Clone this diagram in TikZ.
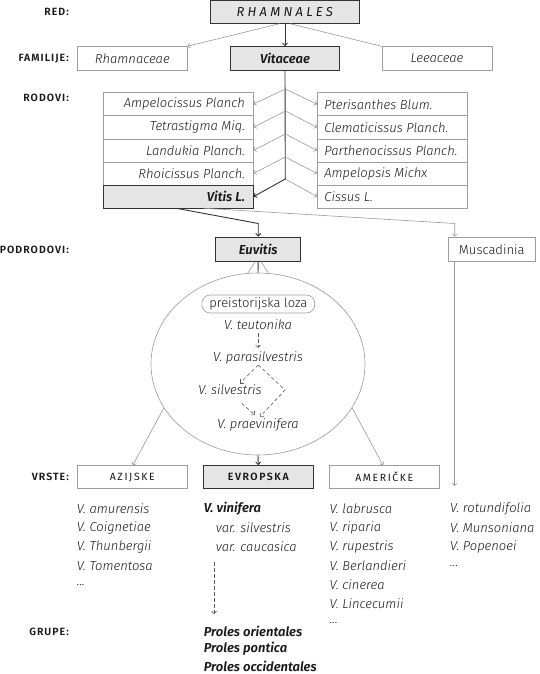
\documentclass[tikz,border=0pt]{standalone}
\usepackage{fontspec}
\setmainfont{Fira Sans}[UprightFont={* Light}, ItalicFont={* Light Italic}, BoldFont={* SemiBold}, BoldItalicFont={* SemiBold Italic}]
\newfontfamily\lblfont{Fira Sans}[LetterSpace=10, BoldFont={* SemiBold}]
\newfontfamily\titfont{Fira Sans}[LetterSpace=25]
\newfontfamily\capfont{Fira Sans}[LetterSpace=15, BoldFont={* SemiBold}]
\usetikzlibrary{shapes.geometric,arrows.meta}
\definecolor{lgray}{gray}{0.6}
\definecolor{bgray}{gray}{0.62}
\definecolor{dgray}{gray}{0.2}
\definecolor{dashgray}{gray}{0.35}
\definecolor{boxfill}{gray}{0.9}
\definecolor{txt}{gray}{0.1}
\newcommand\ltxt[1]{\makebox[133.5pt][r]{#1}}
\newcommand\rtxt[1]{\makebox[135.4pt][l]{#1}}
\tikzset{
  gline/.style={draw=lgray, line width=0.6pt},
  dline/.style={draw=dgray, line width=0.9pt},
  ddash/.style={draw=dashgray, line width=0.6pt, dash pattern=on 3.5pt off 2.5pt},
  tip/.style={-{Straight Barb[length=2.5pt,width=5pt]}},
  wbox/.style={draw=bgray, line width=0.6pt, minimum height=24pt, inner ysep=0pt, text=txt},
  gbox/.style={draw=dgray, fill=boxfill, line width=0.9pt, minimum height=24pt, inner ysep=0pt, text=txt},
  lbl/.style={anchor=east, inner sep=0pt, text=txt, font=\lblfont\bfseries\fontsize{10.5}{12}\selectfont},
  it/.style={font=\itshape\fontsize{13}{15}\selectfont, text=txt, inner sep=0pt},
  sp/.style={anchor=west, font=\itshape\fontsize{13}{15}\selectfont, text=txt, inner sep=0pt},
  spb/.style={sp, font=\bfseries\itshape\fontsize{13}{15}\selectfont},
  lcol/.style={inner xsep=8pt, minimum height=23.1pt, font=\itshape\fontsize{13}{15}\selectfont},
  rcol/.style={inner xsep=7pt, minimum height=23.1pt, font=\itshape\fontsize{13}{15}\selectfont},
}
\begin{document}
\begin{tikzpicture}[x=1pt,y=-1pt]
\useasboundingbox (0,0) rectangle (540,674);
% row labels
\node[lbl] (lred) at (69,12) {RED:};
\node[lbl] (lfam) at (69,58.6) {FAMILIJE:};
\node[lbl] (lrod) at (69,98) {RODOVI:};
\node[lbl] (lpod) at (69,250) {PODRODOVI:};
\node[lbl] (lvrs) at (69,477) {VRSTE:};
\node[lbl] (lgru) at (69,632) {GRUPE:};
% order
\node[gbox, minimum width=148.5pt, minimum height=23pt, font=\titfont\itshape\fontsize{13}{15}\selectfont] (ord) at (284.8,12.2) {RHAMNALES};
% families
\node[wbox, minimum width=109.4pt, font=\itshape\fontsize{13}{15}\selectfont] (rham) at (132.3,58.6) {Rhamnaceae};
\node[gbox, minimum width=109.4pt, font=\bfseries\itshape\fontsize{13}{15}\selectfont] (vita) at (285,58.6) {Vitaceae};
\node[wbox, minimum width=110pt, font=\itshape\fontsize{13}{15}\selectfont] (leea) at (437,58.6) {Leeaceae};
\draw[dline,tip] (ord.south -| vita.north) -- (vita.north);
\coordinate (o1) at (279.5,23.7);
\coordinate (o2) at (290,23.7);
\draw[gline,tip] (o1) -- (rham.north east);
\draw[gline] (o2) -- (leea.north west);
% genera
\node[wbox, lcol] (L1) at (178.3,104.25) {\ltxt{Ampelocissus Planch}};
\node[wbox, lcol] (L2) at (178.3,127.35) {\ltxt{Tetrastigma Miq.}};
\node[wbox, lcol] (L3) at (178.3,150.45) {\ltxt{Landukia Planch.}};
\node[wbox, lcol] (L4) at (178.3,173.55) {\ltxt{Rhoicissus Planch.}};
\node[gbox, lcol, font=\bfseries\itshape\fontsize{13}{15}\selectfont] (L5) at (178.3,196.65) {\ltxt{Vitis L.}};
\node[wbox, rcol] (R1) at (392.1,104.25) {\rtxt{Pterisanthes Blum.}};
\node[wbox, rcol] (R2) at (392.1,127.35) {\rtxt{Clematicissus Planch.}};
\node[wbox, rcol] (R3) at (392.1,150.45) {\rtxt{Parthenocissus Planch.}};
\node[wbox, rcol] (R4) at (392.1,173.55) {\rtxt{Ampelopsis Michx}};
\node[wbox, rcol] (R5) at (392.1,196.65) {\rtxt{Cissus L.}};
\coordinate (s1) at (285.3,89);
\coordinate (s2) at (285.3,111);
\coordinate (s3) at (285.3,134);
\coordinate (s4) at (285.3,157);
\coordinate (s5) at (285.3,179);
\draw[dline] (vita.south) -- (s5);
\foreach \i in {1,2,3,4} {
  \draw[gline,tip] (s\i) -- (L\i.east);
}
\foreach \i in {1,2,3,4,5} {
  \draw[gline,tip] (s\i) -- (R\i.west);
}
\draw[dline,tip] (s5) -- (L5.east);
% subgenera
\node[gbox, minimum width=85.2pt, minimum height=24.4pt, font=\bfseries\itshape\fontsize{13}{15}\selectfont] (euv) at (258.2,249.2) {Euvitis};
\node[wbox, minimum width=86.5pt, minimum height=24.4pt, font=\fontsize{13}{15}\selectfont] (mus) at (491.8,249.2) {Muscadinia};
\coordinate (e1) at (258.2,223.5);
\coordinate (m1) at (454.7,223.5);
\coordinate (m0) at (203.6,208.2);
\draw[gline,tip] (m0) -- (m1) -- (m1 |- mus.north);
\draw[dline,tip] (L5.south) -- (e1) -- (euv.north);
% ellipse
\node[ellipse, draw=lgray, line width=0.6pt, minimum width=214pt, minimum height=182pt, inner sep=0pt] (ell) at (258,364) {};
\coordinate (t1) at (247.5,273.6);
\coordinate (t2) at (268.6,273.4);
\draw[gline] ([xshift=-3pt]euv.south) -- (t1);
\draw[gline] ([xshift=3pt]euv.south) -- (t2);
\draw[dline] (euv.south) -- (ell.north);
\node[draw=bgray, line width=0.6pt, rounded corners=8.5pt, minimum width=113pt, minimum height=18pt, inner sep=0pt, text=txt, font=\fontsize{13}{15}\selectfont] (pre) at (258.3,304) {preistorijska loza};
\node[it] (teu) at (258,325) {V. teutonika};
\node[it] (par) at (258,358) {V. parasilvestris};
\node[it] (sil) at (230,390) {V. silvestris};
\node[it] (pra) at (258,425) {V. praevinifera};
\coordinate (a0) at (258,333);
\coordinate (a1) at (258,348);
\draw[ddash,tip] (a0) -- (a1);
\coordinate (d0) at (258.3,365);
\coordinate (d1) at (240,383.3);
\coordinate (d2) at (285,390);
\coordinate (d3) at (260,416.7);
\coordinate (d4) at (241.7,403.3);
\coordinate (d5) at (255,415);
\draw[ddash,tip] (d0) -- (d1);
\draw[ddash,tip] (d0) -- (d2) -- (d3);
\draw[ddash,tip] (d4) -- (d5);
% species groups
\node[wbox, minimum width=109.4pt, minimum height=23.2pt, font=\capfont\fontsize{10.5}{12}\selectfont] (azi) at (132.3,477.1) {AZIJSKE};
\node[gbox, minimum width=109.4pt, minimum height=23.2pt, font=\capfont\bfseries\fontsize{10.5}{12}\selectfont] (evr) at (258.3,477.1) {EVROPSKA};
\node[wbox, minimum width=109.4pt, minimum height=23.2pt, font=\capfont\fontsize{10.5}{12}\selectfont] (ame) at (384.3,477.1) {AMERIČKE};
\draw[gline,tip] (ell.205) -- ([xshift=0.5pt]azi.north);
\draw[gline,tip] (ell.335) -- ([xshift=-1.3pt]ame.north);
\draw[dline,tip] (ell.south) -- (evr.north);
\coordinate (mend) at (454.7,486);
\draw[gline,tip] (m1 |- mus.south) -- (mend);
% species lists
\node[sp] (c11) at (76.6,509) {V. amurensis};
\node[sp] (c12) at (76.6,528) {V. Coignetiae};
\node[sp] (c13) at (76.6,547) {V. Thunbergii};
\node[sp] (c14) at (76.6,566) {V. Tomentosa};
\node[sp] (c15) at (76.6,585) {...};
\node[spb] (c21) at (203.6,509) {V. vinifera};
\node[sp] (c22) at (215.6,528) {var. silvestris};
\node[sp] (c23) at (215.6,547) {var. caucasica};
\node[sp] (c31) at (329.5,509) {V. labrusca};
\node[sp] (c32) at (329.5,528) {V. riparia};
\node[sp] (c33) at (329.5,547) {V. rupestris};
\node[sp] (c34) at (329.5,566) {V. Berlandieri};
\node[sp] (c35) at (329.5,585) {V. cinerea};
\node[sp] (c36) at (329.5,604) {V. Lincecumii};
\node[sp] (c37) at (329.5,623) {...};
\node[sp] (c41) at (450,509) {V. rotundifolia};
\node[sp] (c42) at (450,528) {V. Munsoniana};
\node[sp] (c43) at (450,547) {V. Popenoei};
\node[sp] (c44) at (450,566) {...};
\coordinate (g0) at (214,562);
\coordinate (g1) at (214,614);
\draw[ddash,tip] (g0) -- (g1);
\node[spb] (p1) at (203.6,631) {Proles orientales};
\node[spb] (p2) at (203.6,648.5) {Proles pontica};
\node[spb] (p3) at (203.6,666) {Proles occidentales};
\end{tikzpicture}
\end{document}
